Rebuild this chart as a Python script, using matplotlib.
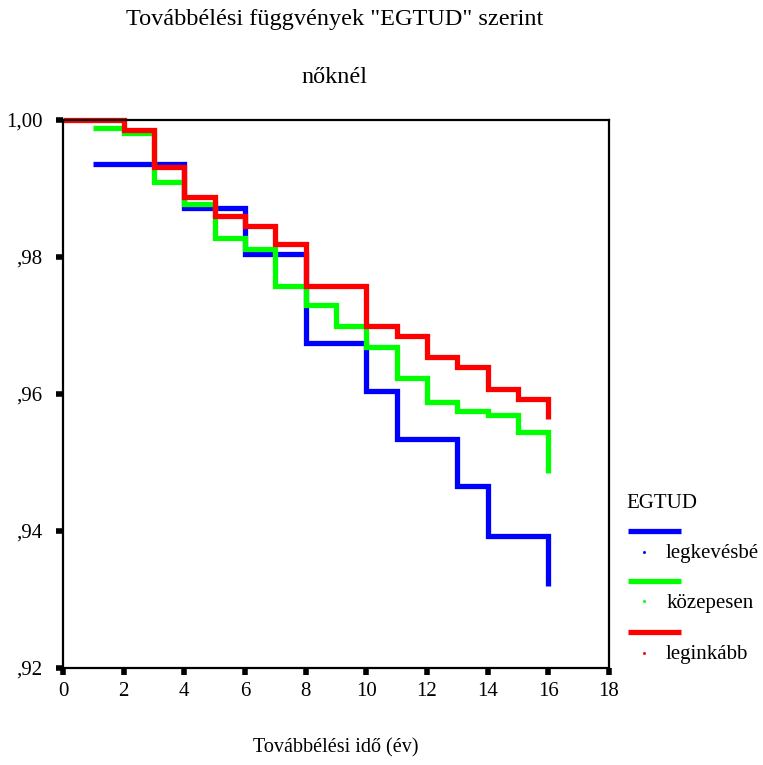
import matplotlib
matplotlib.use("Agg")
import matplotlib.pyplot as plt
from matplotlib.lines import Line2D
from matplotlib.ticker import FuncFormatter

plt.rcParams['font.family'] = ['Liberation Serif', 'DejaVu Serif']

# survival curves by EGTUD group (time in years, cumulative survival)
groups = ['legkevésbé', 'közepesen', 'leginkább']
colors = ['#0000ff', '#00ff00', '#ff0000']

t_low = [1, 4, 6, 8, 10, 11, 13, 14, 16]
s_low = [0.9936, 0.9871, 0.9805, 0.9675, 0.9605, 0.9535, 0.9465, 0.9393, 0.9320]

t_mid = [1, 2, 3, 4, 5, 6, 7, 8, 9, 10, 11, 12, 13, 14, 15, 16]
s_mid = [0.9989, 0.9981, 0.9909, 0.9877, 0.9828, 0.9812, 0.9757, 0.9730,
         0.9699, 0.9669, 0.9623, 0.9588, 0.9575, 0.9569, 0.9544, 0.9484]

t_high = [0, 2, 3, 4, 5, 6, 7, 8, 10, 11, 12, 13, 14, 15, 16]
s_high = [1.0, 0.9985, 0.9931, 0.9888, 0.9860, 0.9846, 0.9819, 0.9758,
          0.9700, 0.9685, 0.9654, 0.9639, 0.9607, 0.9593, 0.9563]

x_ticks = [0, 2, 4, 6, 8, 10, 12, 14, 16, 18]
y_ticks = [0.92, 0.94, 0.96, 0.98, 1.00]

fig = plt.figure(figsize=(7.63, 7.65), dpi=100)
ax = fig.add_axes([0.0826, 0.1268, 0.7156, 0.7163])

series = [(t_low, s_low), (t_mid, s_mid), (t_high, s_high)]
for (t, s), c in zip(series, colors):
    ax.step(t, s, where='post', color=c, lw=3.8, solid_joinstyle='miter',
            solid_capstyle='butt', clip_on=False)

ax.set_xlim(0, 18)
ax.set_ylim(0.92, 1.00)
ax.set_xticks(x_ticks)
ax.set_yticks(y_ticks)


def fmt(v, pos):
    s = '%.2f' % v
    s = s.replace('.', ',')
    if s.startswith('0'):
        s = s[1:]
    return s


ax.yaxis.set_major_formatter(FuncFormatter(fmt))
ax.tick_params(direction='out', length=5, width=4, labelsize=15)
ax.tick_params(axis='y', pad=10)
ax.tick_params(axis='x', pad=5)
for sp in ax.spines.values():
    sp.set_linewidth(1.6)

fig.text(0.438, 0.974, 'Továbbélési függvények "EGTUD" szerint',
         ha='center', va='center', fontsize=17.5)
fig.text(0.438, 0.899, 'nőknél', ha='center', va='center', fontsize=17.5)
fig.text(0.44, 0.022, 'Továbbélési idő (év)', ha='center', va='center', fontsize=14.5)

# legend drawn by hand, SPSS style
fig.text(0.821, 0.342, 'EGTUD', ha='left', va='center', fontsize=15)
leg_y = [0.306, 0.241, 0.174]
for y, c, name in zip(leg_y, colors, groups):
    fig.add_artist(Line2D([0.823, 0.893], [y, y], color=c, lw=3.8,
                          solid_capstyle='butt'))
    fig.add_artist(Line2D([0.844], [y - 0.027], color=c, marker='s', ms=1,
                          lw=0))
    fig.text(0.873, y - 0.03, name, ha='left', va='center', fontsize=15)

fig.savefig('out.png', dpi=100)
